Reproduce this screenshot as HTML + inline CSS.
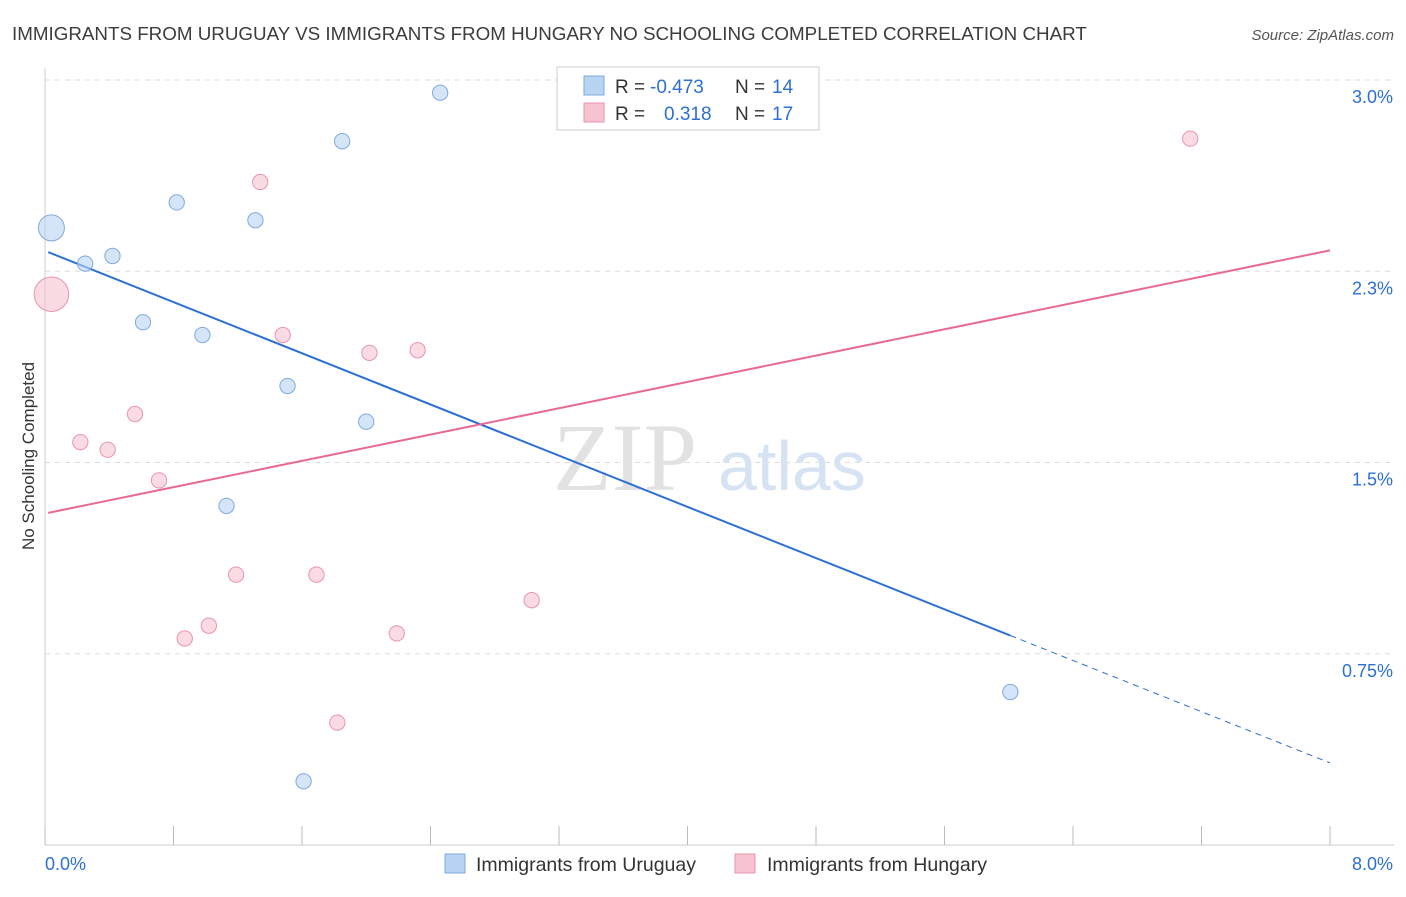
<!DOCTYPE html>
<html><head><meta charset="utf-8"><style>
body{margin:0;background:#fff;font-family:"Liberation Sans",sans-serif;}
</style></head><body>
<svg id="chart" width="1406" height="892" viewBox="0 0 1406 892" xmlns="http://www.w3.org/2000/svg" font-family="Liberation Sans, sans-serif">
<text x="12" y="40" font-size="18.8" fill="#3c3c3c">IMMIGRANTS FROM URUGUAY VS IMMIGRANTS FROM HUNGARY NO SCHOOLING COMPLETED CORRELATION CHART</text>
<text x="1394" y="40" font-size="15" fill="#555" text-anchor="end" font-style="italic">Source: ZipAtlas.com</text>
<g id="grid"></g>
<g id="axes"></g>
<text x="553" y="490" font-size="96" fill="#e2e2e2" style="font-family:'Liberation Serif',serif">ZIP</text>
<text x="718" y="490" font-size="70" fill="#d6e3f3">atlas</text>
<g id="lines"></g>
<g id="points"></g>
<text transform="translate(34,456) rotate(-90)" font-size="17" fill="#333" text-anchor="middle">No Schooling Completed</text>
<g>
<rect x="557" y="67" width="262" height="63" fill="#fff" stroke="#ccc"/>
<rect x="584" y="76" width="20" height="19" fill="#b9d3f3" stroke="#7fa9df"/>
<rect x="584" y="103" width="20" height="19" fill="#f8c3d1" stroke="#e895ab"/>
<text x="615" y="93" font-size="19" fill="#333">R =</text>
<text x="650" y="93" font-size="19" fill="#2d6fd3">-0.473</text>
<text x="735" y="93" font-size="19" fill="#333">N =</text>
<text x="772" y="93" font-size="19" fill="#2d6fd3">14</text>
<text x="615" y="120" font-size="19" fill="#333">R =</text>
<text x="664" y="120" font-size="19" fill="#2d6fd3">0.318</text>
<text x="735" y="120" font-size="19" fill="#333">N =</text>
<text x="772" y="120" font-size="19" fill="#2d6fd3">17</text>
</g>
<g>
<rect x="445" y="854" width="20" height="19" fill="#b9d3f3" stroke="#7fa9df"/>
<text x="476" y="871" font-size="19.5" fill="#333">Immigrants from Uruguay</text>
<rect x="735" y="854" width="20" height="19" fill="#f8c3d1" stroke="#e895ab"/>
<text x="767" y="871" font-size="19.5" fill="#333">Immigrants from Hungary</text>
</g>
</svg>
<script>
const yTicks=[0.75,1.5,2.25,3.0];
const yTickLabels=["0.75%","1.5%","2.3%","3.0%"];
const xTickCount=10;
const uruguayX=[0.04,0.25,0.42,0.61,0.82,0.98,1.31,1.51,1.85,2.0,1.13,1.61,2.46,6.01];
const uruguayY=[2.42,2.28,2.31,2.05,2.52,2.00,2.45,1.80,2.76,1.66,1.33,0.25,2.95,0.60];
const uruguaySize=[13,9,9,9,9,9,9,9,9,9,9,9,9,9];
const hungaryX=[0.04,0.22,0.39,0.56,0.71,0.87,1.02,1.19,1.34,1.48,1.69,1.82,2.02,2.19,2.32,3.03,7.13];
const hungaryY=[2.16,1.58,1.55,1.69,1.43,0.81,0.86,1.06,2.60,2.00,1.06,0.48,1.93,0.83,1.94,0.96,2.77];
const hungarySize=[15,9,9,9,9,9,9,9,9,9,9,9,9,9,9,9,9];
const uruguayTrend=[2.33,-0.251];
const hungaryTrend=[1.30,0.129];
const uruguaySolidEnd=6.01;
const X0=45,X1=1330,Y0=845;
const xs=v=>X0+v*(X1-X0)/8;
const ys=v=>Y0-v*255;
const NS="http://www.w3.org/2000/svg";
function mk(tag,attrs,parent){const e=document.createElementNS(NS,tag);for(const k in attrs)e.setAttribute(k,attrs[k]);document.getElementById(parent).appendChild(e);return e;}
yTicks.forEach((t,i)=>{
 const l=mk('line',{x1:X0,x2:1394,y1:ys(t),y2:ys(t),stroke:'#ddd','stroke-dasharray':'5,5'},'grid');
 
 
 const tx=mk('text',{x:1393,y:ys(t)+23,'font-size':18,fill:'#2d6fd3','text-anchor':'end'},'axes');
 tx.textContent=yTickLabels[i];
 
 
});
const ya=mk('line',{x1:X0,x2:X0,y1:68,y2:Y0,stroke:'#ccc'},'axes');


const xa=mk('line',{x1:X0,x2:1394,y1:Y0,y2:Y0,stroke:'#ccc'},'axes');


for(let i=0;i<=xTickCount;i++){
 const v=i*8/xTickCount;
 const t=mk('line',{x1:xs(v),x2:xs(v),y1:826,y2:Y0,stroke:'#bbb'},'axes');
 
 
}
const xl0=mk('text',{x:45,y:870,'font-size':18,fill:'#2d6fd3'},'axes');xl0.textContent='0.0%';


const xl1=mk('text',{x:1393,y:870,'font-size':18,fill:'#2d6fd3','text-anchor':'end'},'axes');xl1.textContent='8.0%';


const uy=x=>uruguayTrend[0]+uruguayTrend[1]*x, hy=x=>hungaryTrend[0]+hungaryTrend[1]*x;
const bl=mk('line',{x1:xs(0.02),y1:ys(uy(0.02)),x2:xs(uruguaySolidEnd),y2:ys(uy(uruguaySolidEnd)),stroke:'#2d6fd3','stroke-width':2},'lines');


const bd=mk('line',{x1:xs(uruguaySolidEnd),y1:ys(uy(uruguaySolidEnd)),x2:xs(8),y2:ys(uy(8)),stroke:'#2d6fd3','stroke-width':1,'stroke-dasharray':'6,5'},'lines');


const pl=mk('line',{x1:xs(0.02),y1:ys(hy(0.02)),x2:xs(8),y2:ys(hy(8)),stroke:'#e76a94','stroke-width':2},'lines');


hungaryX.forEach((x,i)=>{
 const c=mk('circle',{cx:xs(x),cy:ys(hungaryY[i]),r:hungarySize[i]*(hungarySize[i]>9?1.15:0.85),fill:'#f8c3d1','fill-opacity':0.6,stroke:'#e895ab','stroke-width':1},'points');
 
 
});
uruguayX.forEach((x,i)=>{
 const c=mk('circle',{cx:xs(x),cy:ys(uruguayY[i]),r:uruguaySize[i]*(uruguaySize[i]>9?1.0:0.85),fill:'#b9d3f3','fill-opacity':0.6,stroke:'#7fa9df','stroke-width':1},'points');
 
 
});
</script>
</body></html>
